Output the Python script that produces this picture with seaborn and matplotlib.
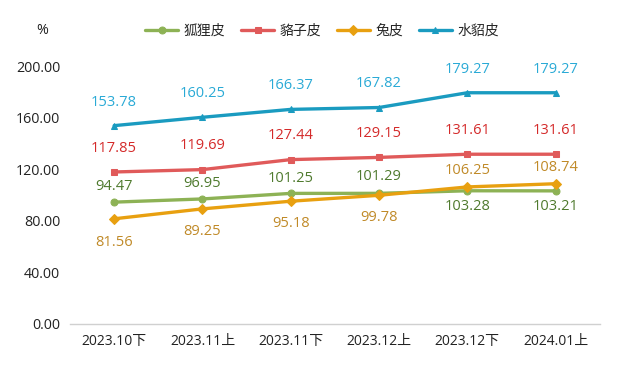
import matplotlib
matplotlib.use("Agg")
import matplotlib.pyplot as plt
import seaborn as sns
import pandas as pd

categories = ["2023.10下", "2023.11上", "2023.11下", "2023.12上", "2023.12下", "2024.01上"]
fox = [94.47, 96.95, 101.25, 101.29, 103.28, 103.21]
raccoon = [117.85, 119.69, 127.44, 129.15, 131.61, 131.61]
rabbit = [81.56, 89.25, 95.18, 99.78, 106.25, 108.74]
mink = [153.78, 160.25, 166.37, 167.82, 179.27, 179.27]
series_names = ["狐狸皮", "貉子皮", "兔皮", "水貂皮"]
yticks = [0, 40, 80, 120, 160, 200]

sns.set_theme(style="white")
plt.rcParams['font.family'] = ['Open Sans', 'Noto Sans CJK SC', 'DejaVu Sans']

fig = plt.figure(figsize=(6.17, 3.74), dpi=100)
ax = fig.add_axes([0.1135, 0.1337, 0.8585, 0.6898])

series = [fox, raccoon, rabbit, mink]
line_colors = ["#8DB255", "#E05A5A", "#E8A010", "#1A9BC0"]
label_colors = ["#4F7A2E", "#D42A2A", "#C08A28", "#2AAAD6"]
markers = ["o", "s", "D", "^"]
msizes = [7, 7, 5, 7]
# label offsets in points (positive above, negative below)
label_off = [
    [11, 11, 11, 12, -11, -11],
    [17, 17, 17, 17, 17, 17],
    [-17, -16, -16, -16, 11.5, 11.5],
    [17, 17, 17, 17, 17, 17],
]

for name, vals, lc, tc, mk, ms, offs in zip(series_names, series, line_colors, label_colors, markers, msizes, label_off):
    df = pd.DataFrame({"cat": categories, "val": vals})
    sns.lineplot(data=df, x="cat", y="val", ax=ax, color=lc, marker=mk, markersize=ms,
                 markeredgecolor=lc, linewidth=2.4, label=name, sort=False)
    for i, v in enumerate(vals):
        ax.annotate(f"{v:.2f}", (i, v), xytext=(0, offs[i]), textcoords="offset points",
                    ha="center", va="center", color=tc, fontsize=10.5)

ax.set_ylim(0, 200)
ax.set_xlim(-0.5, len(categories) - 0.5)
ax.set_yticks(yticks)
ax.set_yticklabels([f"{t:.2f}" for t in yticks], fontsize=10.3, color="#222222")
ax.tick_params(axis="x", labelsize=10, colors="#222222", pad=7, length=0)
ax.tick_params(axis="y", pad=7, length=0)
ax.set_xlabel("")
ax.set_ylabel("")
for s in ["top", "right", "left"]:
    ax.spines[s].set_visible(False)
ax.spines["bottom"].set_color("#D0D0D0")
ax.spines["bottom"].set_linewidth(1)

fig.text(42 / 617, 1 - 30 / 374, "%", ha="center", va="center", fontsize=10.3, color="#222222")

handles, labels = ax.get_legend_handles_labels()
for h in handles:
    h.set_markersize(5)
ax.legend(handles, labels, loc="center", bbox_to_anchor=(0.522, 1 - 31 / 374), bbox_transform=fig.transFigure,
          ncol=4, frameon=False, fontsize=10, handlelength=2.4, columnspacing=1.1, handletextpad=0.4)

fig.savefig("out.png", dpi=100)
